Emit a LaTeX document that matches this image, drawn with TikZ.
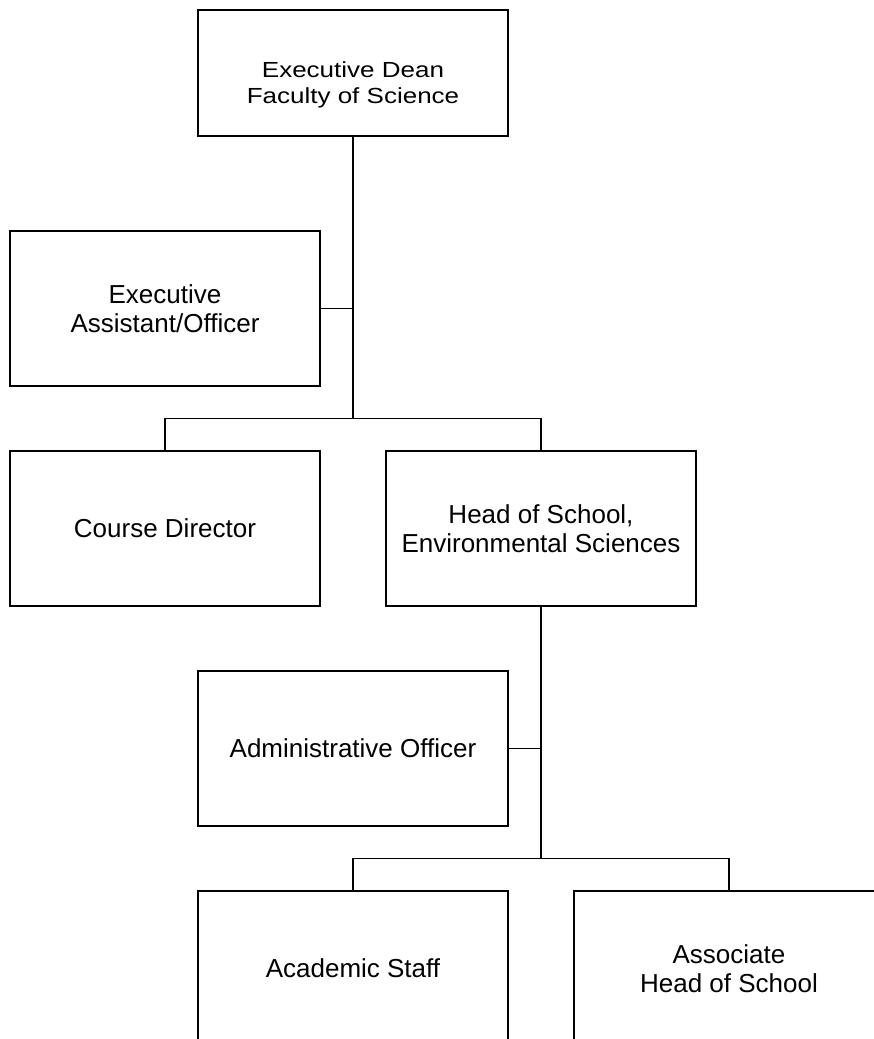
\documentclass[tikz,border=0pt]{standalone}
\usepackage{graphicx}
\usepackage{fontspec}
\setmainfont{Liberation Sans}
\usetikzlibrary{matrix}

\begin{document}
\begin{tikzpicture}[x=1pt,y=-1pt,-]
		\useasboundingbox (0,0) rectangle (874,1039);
		\clip (0,0) rectangle (874,1039);
		\matrix[anchor=north west,inner sep=0pt,outer sep=0pt,
			nodes={draw,rectangle,line width=1.5pt,minimum width=310pt,minimum height=155pt,
				inner sep=2pt,outer sep=0pt,anchor=center,align=center,
				font={\fontsize{26}{29}\selectfont}},
			row sep=63.5pt,column sep=-123.5pt,ampersand replacement=\&] at (9.25,9.25)
		{
			\& \node[minimum height=126pt] (dean) {\raisebox{-12pt}[\height][\depth]{\scalebox{1}[0.84]{\fontsize{26}{31}\selectfont
				\begin{tabular}{@{}c@{}}Executive Dean\\Faculty of Science\end{tabular}}}}; \& \& \\[30pt]
			\node (ea) {Executive\\Assistant/Officer}; \& \& \& \\
			\node (cd) {Course Director}; \& \& \node (hos) {Head of School,\\Environmental Sciences}; \& \\
			\& \node (ao) {Administrative Officer}; \& \& \\
			\& \node (as) {Academic Staff}; \& \& \node (ash) {Associate\\Head of School}; \\
		};
		\coordinate (bar1) at ([yshift=32.5pt]cd.north -| dean.south);
		\coordinate (bar2) at ([yshift=32.5pt]as.north -| hos.south);
		\draw[line width=1.5pt] (dean.south) -- (bar1);
		\draw[line width=1.5pt] (ea.east) -- (ea.east -| dean.south);
		\draw[line width=1.5pt] (cd.north) |- (bar1) -| (hos.north);
		\draw[line width=1.5pt] (hos.south) -- (bar2);
		\draw[line width=1.5pt] (ao.east) -- (ao.east -| hos.south);
		\draw[line width=1.5pt] (as.north) |- (bar2) -| (ash.north);
\end{tikzpicture}
\end{document}
